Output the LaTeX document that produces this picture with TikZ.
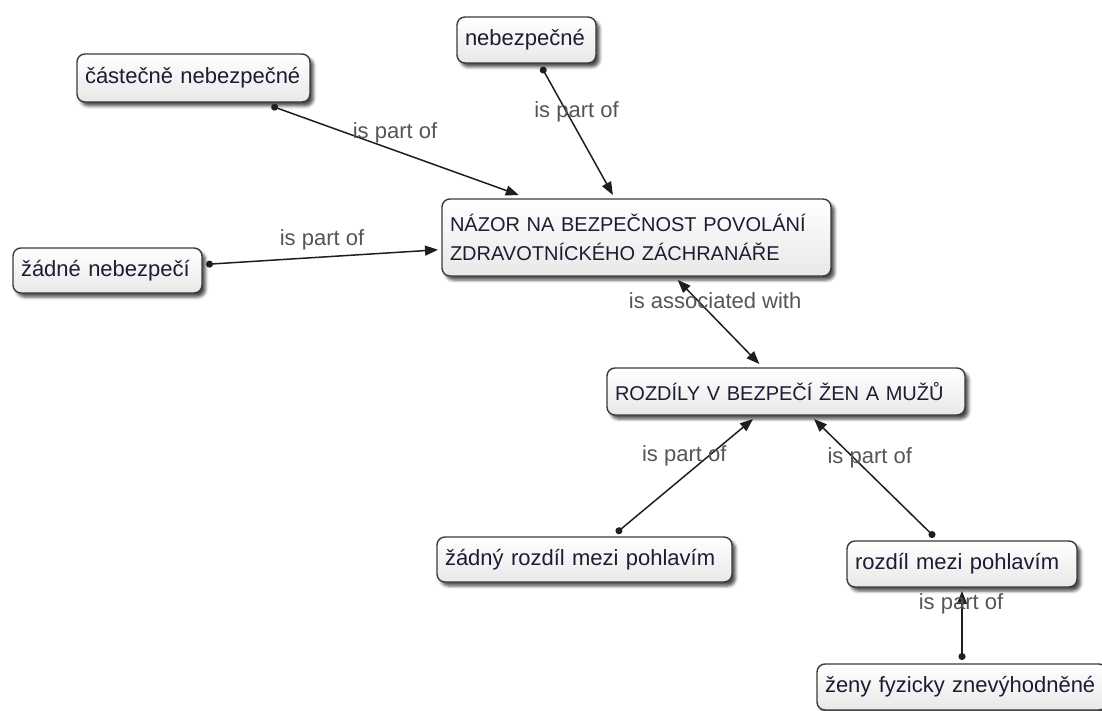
\documentclass[tikz,border=0pt]{standalone}
\usepackage{fontspec}
\setmainfont{Liberation Sans}
\usetikzlibrary{arrows.meta,shadows.blur}
\definecolor{edgeink}{HTML}{1E1E1E}
\definecolor{boxline}{HTML}{3A3A3A}
\definecolor{labelgray}{HTML}{555555}
\definecolor{conceptink}{HTML}{1C1C34}
\tikzset{
  concept/.style={rectangle, rounded corners=8pt, draw=boxline, line width=1.4pt,
    top color=white, bottom color=gray!18,
    blur shadow={shadow xshift=3.5pt, shadow yshift=-4pt, shadow blur radius=3pt, shadow opacity=70},
    text=conceptink, font=\fontsize{22}{26}\selectfont, align=left,
    inner xsep=8pt, inner ysep=0pt, outer sep=4pt},
  capsconcept/.style={concept, font=\fontsize{20}{29}\selectfont},
  dims/.style 2 args={minimum width=#1, text width=#1-16pt, minimum height=#2},
  link/.style={draw=edgeink, line width=1.5pt,
    arrows={Circle[length=7pt]-Triangle[length=13pt,width=10pt]}},
  assoc/.style={draw=edgeink, line width=1.5pt,
    arrows={Triangle[length=13pt,width=10pt]-Triangle[length=13pt,width=10pt]}},
  lbl/.style={text=labelgray, font=\fontsize{22}{26}\selectfont, inner sep=0pt},
}
\begin{document}
\begin{tikzpicture}[x=1pt, y=-1pt]
  \clip (0,0) rectangle (1102,711);

  % concepts
  \node[concept, dims={233pt}{48pt}] (cast) at (193.5,78) {částečně nebezpečné};
  \node[concept, dims={139pt}{46pt}] (nebez) at (526.5,40) {nebezpečné};
  \node[capsconcept, dims={389pt}{77pt}] (main) at (636.5,237.5)
    {NÁZOR NA BEZPEČNOST POVOLÁNÍ\\ZDRAVOTNÍCKÉHO ZÁCHRANÁŘE};
  \node[concept, dims={189pt}{45pt}] (zadne) at (107.5,270.5) {žádné nebezpečí};
  \node[capsconcept, dims={358pt}{47pt}] (roz) at (786,391.5) {ROZDÍLY V BEZPEČÍ ŽEN A MUŽŮ};
  \node[concept, dims={295pt}{45pt}] (zadny) at (584.5,559.5) {žádný rozdíl mezi pohlavím};
  \node[concept, dims={230pt}{46pt}] (rozdil) at (962,564) {rozdíl mezi pohlavím};
  \node[concept, dims={290pt}{46pt}] (zeny) at (962,687) {ženy fyzicky znevýhodněné};

  % links
  \draw[link] (cast) -- node[lbl, pos=0.5, yshift=18pt] {is part of} (main);
  \draw[link] (nebez) -- node[lbl, pos=0.35, xshift=10pt] {is part of} (main);
  \draw[link] (zadne) -- node[lbl, pos=0.5, yshift=17pt] {is part of} (main);
  \draw[assoc] (main) -- node[lbl, pos=0.25, xshift=17pt] {is associated with} (roz);
  \draw[link] (zadny) -- node[lbl, pos=0.68, xshift=-25pt] {is part of} (roz);
  \draw[link] (rozdil) -- node[lbl, pos=0.67, xshift=16pt] {is part of} (roz);
  \draw[link] (zeny) -- node[lbl, pos=0.815, xshift=-1pt] {is part of} (rozdil);
\end{tikzpicture}
\end{document}
